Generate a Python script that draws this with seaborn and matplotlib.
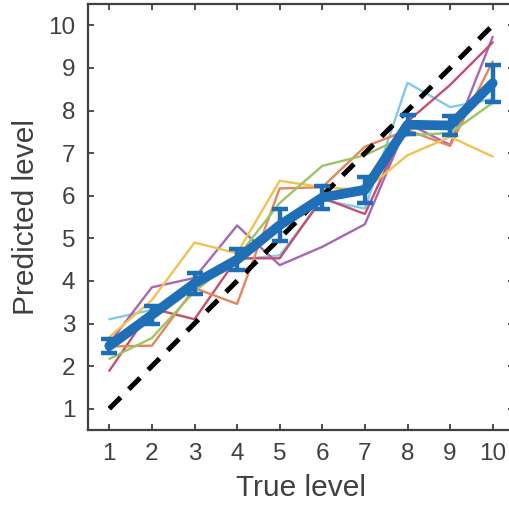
import matplotlib
matplotlib.use("Agg")
import matplotlib.pyplot as plt
import seaborn as sns
import pandas as pd

# true levels on the x axis
levels = [1, 2, 3, 4, 5, 6, 7, 8, 9, 10]

# predicted level for each subject
subj_lightblue = [3.10, 3.32, 4.00, 4.50, 4.60, 5.90, 5.70, 8.65, 8.08, 8.27]
subj_purple = [2.54, 3.85, 4.07, 5.30, 4.37, 4.80, 5.33, 7.70, 7.19, 9.73]
subj_red = [1.89, 3.35, 3.10, 4.53, 4.53, 5.95, 5.57, 7.74, 8.60, 9.60]
subj_orange = [2.46, 2.48, 3.83, 3.46, 6.17, 6.20, 7.15, 7.54, 7.17, 9.15]
subj_yellow = [2.68, 3.55, 4.90, 4.65, 6.35, 6.20, 6.13, 6.95, 7.38, 6.92]
subj_green = [2.17, 2.66, 3.75, 4.55, 5.83, 6.70, 6.95, 7.42, 7.47, 8.18]

subjects = ["s1", "s2", "s3", "s4", "s5", "s6"]
colors = ["#82c9ea", "#a866b5", "#c4506c", "#e8845a", "#f2c250", "#9cc462"]

rows = []
for name, vals in zip(subjects, [subj_lightblue, subj_purple, subj_red,
                                 subj_orange, subj_yellow, subj_green]):
    for x, y in zip(levels, vals):
        rows.append({"true": x, "pred": y, "subject": name})
df = pd.DataFrame(rows)

sns.set_style("ticks")
plt.rcParams["font.family"] = ["Liberation Sans", "DejaVu Sans"]
dark = "#404040"

fig = plt.figure(figsize=(5.09, 5.08), dpi=100)
ax = fig.add_axes([88 / 509, 78 / 508, 426 / 509, 426 / 508])

sns.lineplot(data=df, x="true", y="pred", hue="subject",
             palette=dict(zip(subjects, colors)), linewidth=1.7,
             legend=False, ax=ax)
sns.lineplot(x=levels, y=levels, color="black", linewidth=3.6,
             linestyle=(0, (3.2, 2.3)), ax=ax)
sns.lineplot(data=df, x="true", y="pred", errorbar="se", err_style="bars",
             color="#1f6fb7", linewidth=7,
             err_kws={"capsize": 6, "elinewidth": 3.2, "capthick": 3.2},
             ax=ax)

ax.set_xlim(0.5, 10.5)
ax.set_ylim(0.5, 10.5)
ax.set_xticks(levels)
ax.set_yticks(levels)
ax.tick_params(direction="in", length=4, width=1.3, colors=dark,
               labelsize=17.5, labelcolor=dark, pad=9,
               top=True, right=True)
for s in ax.spines.values():
    s.set_visible(True)
    s.set_color(dark)
    s.set_linewidth(1.6)

ax.set_xlabel("True level", fontsize=21.5, color=dark, labelpad=7)
ax.set_ylabel("Predicted level", fontsize=21.5, color=dark, labelpad=6)

fig.savefig("out.png", dpi=100)
